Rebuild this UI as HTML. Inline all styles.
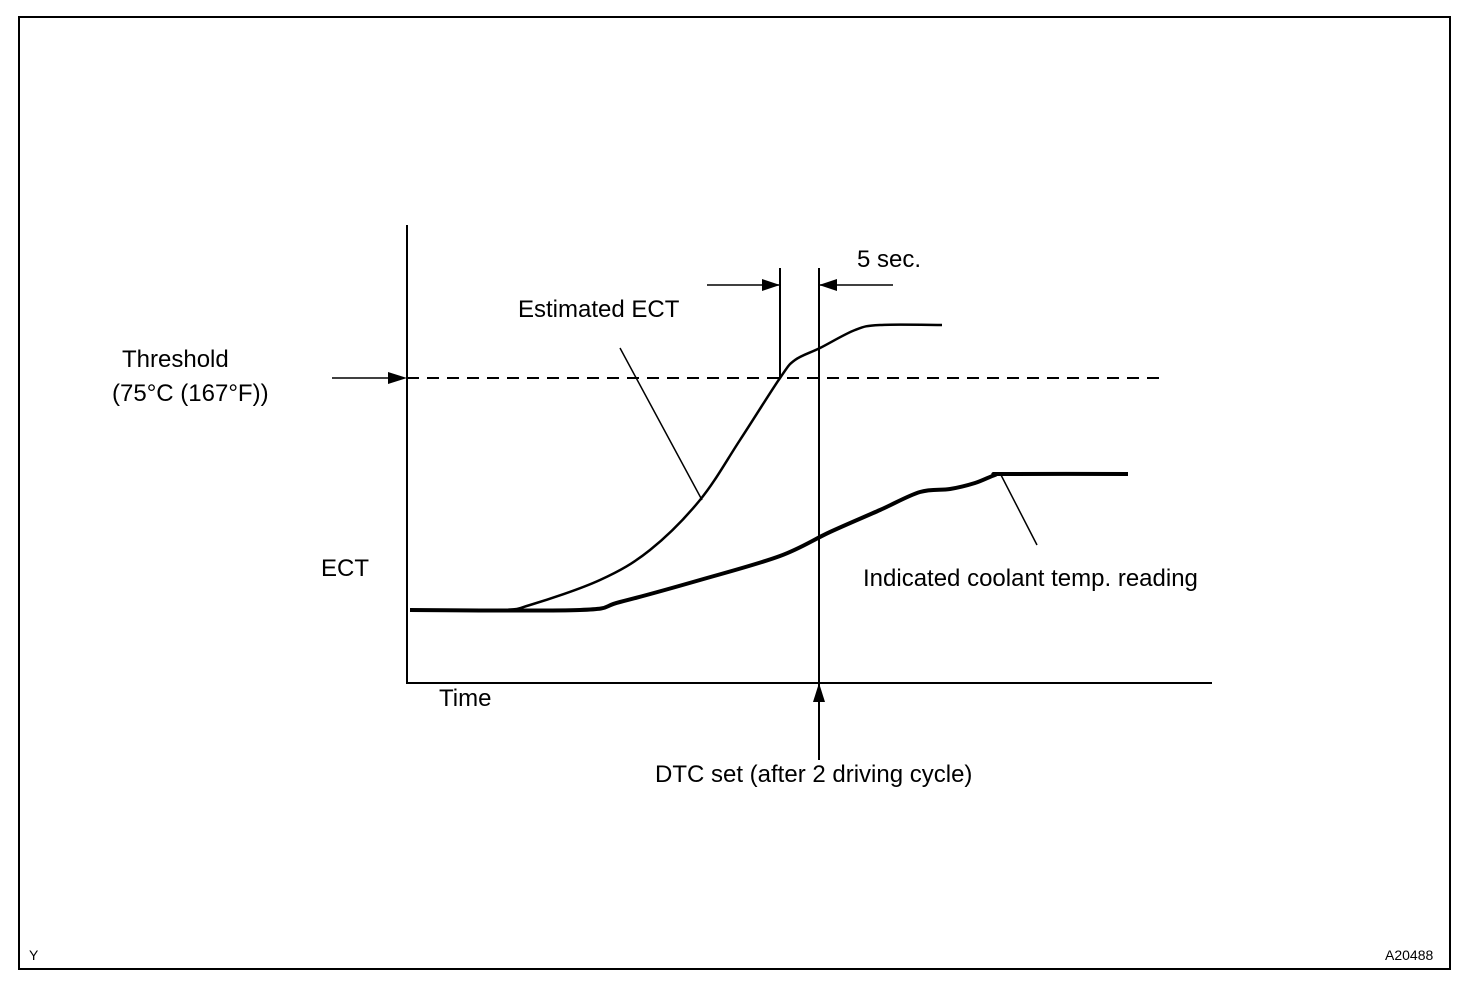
<!DOCTYPE html>
<html><head><meta charset="utf-8"><style>
html,body{margin:0;padding:0;background:#fff}
svg{display:block}
text{font-family:"Liberation Sans",Arial,sans-serif;fill:#000}
</style></head><body>
<svg width="1472" height="990" viewBox="0 0 1472 990">
<rect x="19" y="17" width="1431" height="952" fill="none" stroke="#000" stroke-width="2"/>
<g id="plot"></g>
<text x="122" y="367" font-size="24">Threshold</text>
<text x="112" y="401" font-size="24">(75°C (167°F))</text>
<text x="321" y="576" font-size="24">ECT</text>
<text x="439" y="706" font-size="24">Time</text>
<text x="518" y="317" font-size="24">Estimated ECT</text>
<text x="857" y="267" font-size="24">5 sec.</text>
<text x="863" y="586" font-size="24">Indicated coolant temp. reading</text>
<text x="655" y="782" font-size="24">DTC set (after 2 driving cycle)</text>
<text x="29" y="960" font-size="14">Y</text>
<text x="1385" y="960" font-size="14">A20488</text>
</svg>
<script>
const estT=[3,93,123,193,243,293,333,373,388,413,448,473,535];
const estV=[0,0,2.5,15,30,55,85,116,125,131,140,142.5,142.5];
const indT=[3,173,213,293,373,423,473,513,543,568,588,598,721];
const indV=[0,0,4,15,27,39,50,59,60.5,63.5,67.5,68,68];
const thresholdV=116;
const dtcT=412, startT=373;
const NS="http://www.w3.org/2000/svg";
const g=document.getElementById('plot');
const xS=t=>407+t, yS=v=>610-v*2;
function el(tag,attrs){const e=document.createElementNS(NS,tag);for(const k in attrs)e.setAttribute(k,attrs[k]);g.appendChild(e);return e;}
function smooth(T,V){const p=T.map((t,i)=>[xS(t),yS(V[i])]);let d=`M${p[0][0]},${p[0][1]}`;
for(let i=0;i<p.length-1;i++){const p0=p[i-1]||p[i],p1=p[i],p2=p[i+1],p3=p[i+2]||p2;
d+=` C${p1[0]+(p2[0]-p0[0])/6},${p1[1]+(p2[1]-p0[1])/6} ${p2[0]-(p3[0]-p1[0])/6},${p2[1]-(p3[1]-p1[1])/6} ${p2[0]},${p2[1]}`;}return d;}
let e;
e=el('line',{x1:407,y1:225,x2:407,y2:684,stroke:'#000','stroke-width':2});


e=el('line',{x1:406,y1:683,x2:1212,y2:683,stroke:'#000','stroke-width':2});


e=el('line',{x1:407,y1:yS(thresholdV),x2:1160,y2:yS(thresholdV),stroke:'#000','stroke-width':2,'stroke-dasharray':'12 8'});


e=el('line',{x1:332,y1:yS(thresholdV),x2:392,y2:yS(thresholdV),stroke:'#000','stroke-width':1.5});


e=el('polygon',{points:`407,${yS(thresholdV)} 388,${yS(thresholdV)-6} 388,${yS(thresholdV)+6}`,fill:'#000'});


e=el('path',{d:smooth(estT,estV),fill:'none',stroke:'#000','stroke-width':2.5});


e=el('path',{d:smooth(indT,indV),fill:'none',stroke:'#000','stroke-width':4});


e=el('line',{x1:xS(startT),y1:268,x2:xS(startT),y2:yS(thresholdV),stroke:'#000','stroke-width':2});


e=el('line',{x1:xS(dtcT),y1:268,x2:xS(dtcT),y2:760,stroke:'#000','stroke-width':2});


e=el('polygon',{points:`${xS(dtcT)},683 ${xS(dtcT)-6},702 ${xS(dtcT)+6},702`,fill:'#000'});


e=el('line',{x1:707,y1:285,x2:xS(startT),y2:285,stroke:'#000','stroke-width':1.5});


e=el('polygon',{points:`${xS(startT)},285 ${xS(startT)-18},279 ${xS(startT)-18},291`,fill:'#000'});


e=el('line',{x1:xS(dtcT),y1:285,x2:893,y2:285,stroke:'#000','stroke-width':1.5});


e=el('polygon',{points:`${xS(dtcT)},285 ${xS(dtcT)+18},279 ${xS(dtcT)+18},291`,fill:'#000'});


e=el('line',{x1:620,y1:348,x2:702,y2:500,stroke:'#000','stroke-width':1.5});


e=el('line',{x1:1001,y1:475,x2:1037,y2:545,stroke:'#000','stroke-width':1.5});


</script>
</body></html>
